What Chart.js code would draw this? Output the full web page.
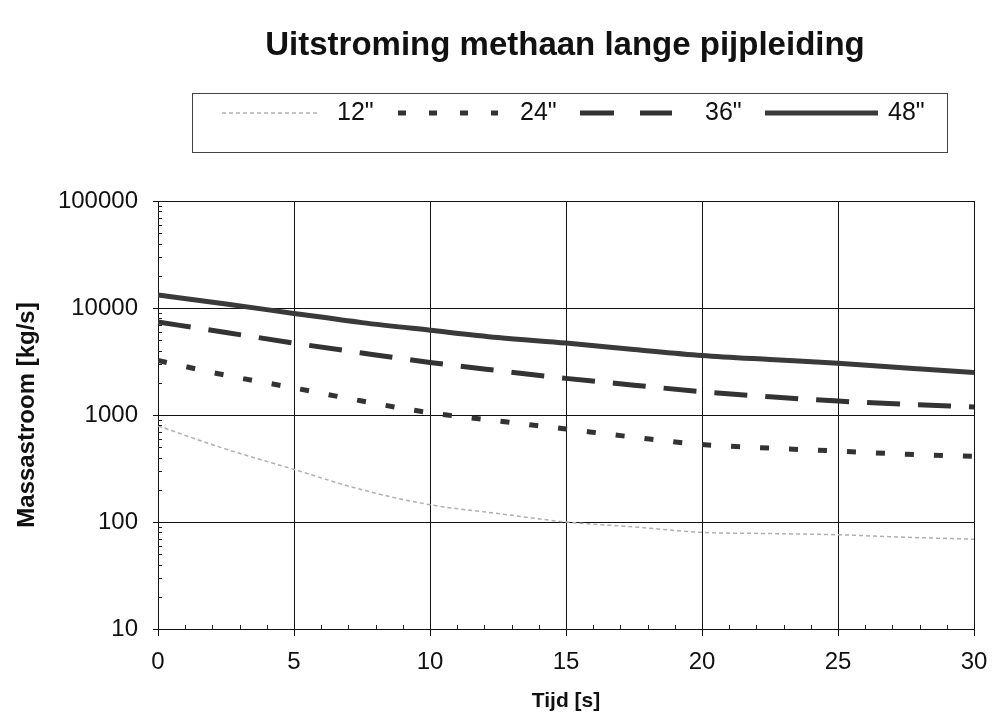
<!DOCTYPE html>
<html>
<head>
<meta charset="utf-8">
<script src="https://cdn.jsdelivr.net/npm/chart.js@4"></script>
<style>
  html, body { margin: 0; padding: 0; background: #fff; }
  #wrap { width: 992px; height: 722px; }
</style>
</head>
<body>
<div id="wrap"><canvas id="myChart" width="992" height="722"></canvas></div>
<script>
const ctx = document.getElementById('myChart');

// data
const chartTitle = 'Uitstroming methaan lange pijpleiding';
const times = [0, 2.5, 5, 7.5, 10, 12.5, 15, 17.5, 20, 22.5, 25, 27.5, 30];
const flow12 = [790, 480, 310, 200, 145, 120, 100, 90, 80, 78, 76, 72, 69];
const flow24 = [3230, 2350, 1790, 1350, 1050, 880, 740, 620, 530, 490, 460, 430, 410];
const flow36 = [7400, 5900, 4700, 3800, 3100, 2600, 2200, 1900, 1650, 1480, 1350, 1260, 1190];
const flow48 = [13200, 10900, 8900, 7300, 6200, 5300, 4700, 4100, 3600, 3300, 3050, 2750, 2500];
const seriesLabels = ['12"', '24"', '36"', '48"'];
const yTicks = [10, 100, 1000, 10000, 100000];
const xTicks = [0, 5, 10, 15, 20, 25, 30];

const toPoints = arr => times.map((t, i) => ({ x: t, y: arr[i] }));

// legend sample x-ranges and label x (layout only)
const legendSlots = [
    { x1: 222, x2: 318, tx: 337 },
    { x1: 398, x2: 498, tx: 520 },
    { x1: 580, x2: 672, tx: 705 },
    { x1: 765, x2: 878, tx: 888 }
];

const headerPlugin = {
    id: 'header',
    beforeDraw(chart) {
        const c = chart.ctx;
        c.save();
        c.fillStyle = '#fff';
        c.fillRect(0, 0, chart.width, chart.height);
        c.restore();
    },
    afterDraw(chart) {
        const c = chart.ctx;
        c.save();
        // title
        c.fillStyle = '#111';
        c.font = 'bold 33px "Liberation Sans", Arial, sans-serif';
        c.textAlign = 'center';
        c.textBaseline = 'alphabetic';
        c.fillText(chartTitle, 565, 55);

        // legend box
        c.strokeStyle = '#444';
        c.lineWidth = 1;
        c.strokeRect(192.5, 93.5, 755, 59);

        c.font = '25px "Liberation Sans", Arial, sans-serif';
        c.textAlign = 'left';
        chart.data.datasets.forEach((ds, i) => {
            const s = legendSlots[i];
            c.beginPath();
            c.strokeStyle = ds.borderColor;
            c.lineWidth = ds.borderWidth;
            c.setLineDash(ds.legendDash || ds.borderDash || []);
            c.moveTo(s.x1, 113);
            c.lineTo(s.x2, 113);
            c.stroke();
            c.setLineDash([]);
            c.fillStyle = '#111';
            c.fillText(ds.label, s.tx, 120);
        });

        // minor ticks inside the plot
        const xs = chart.scales.x, ys = chart.scales.y;
        c.strokeStyle = '#222';
        c.lineWidth = 1;
        c.beginPath();
        for (let v = 0; v <= 30; v++) {
            if (v % 5 === 0) continue;
            const px = Math.round(xs.getPixelForValue(v)) + 0.5;
            c.moveTo(px, ys.bottom);
            c.lineTo(px, ys.bottom - 4);
        }
        yTicks.slice(0, -1).forEach(d => {
            for (let m = 2; m <= 9; m++) {
                const py = Math.round(ys.getPixelForValue(d * m)) + 0.5;
                c.moveTo(xs.left, py);
                c.lineTo(xs.left + 4, py);
            }
        });
        c.stroke();
        c.restore();
    }
};

new Chart(ctx, {
    type: 'line',
    data: {
        datasets: [{
            label: seriesLabels[0],
            data: toPoints(flow12),
            borderColor: '#b0b0b0',
            borderWidth: 1.5,
            borderDash: [4, 3]
        },
        {
            label: seriesLabels[1],
            data: toPoints(flow24),
            borderColor: '#333',
            borderWidth: 5,
            borderDash: [9, 20],
            legendDash: [8, 23]
        },
        {
            label: seriesLabels[2],
            data: toPoints(flow36),
            borderColor: '#333',
            borderWidth: 5,
            borderDash: [33, 18],
            legendDash: [34, 26]
        },
        {
            label: seriesLabels[3],
            data: toPoints(flow48),
            borderColor: '#3a3a3a',
            borderWidth: 5
        }
        ]
    },
    options: {
        responsive: false,
        animation: false,
        layout: {
            padding: { top: 201, right: 18, left: 0, bottom: 0 }
        },
        elements: {
            point: { radius: 0 },
            line: { cubicInterpolationMode: 'monotone' }
        },
        plugins: {
            legend: { display: false },
            title: { display: false },
            tooltip: { enabled: false }
        },
        scales: {
            x: {
                type: 'linear',
                min: 0,
                max: 30,
                afterFit: s => { s.height = 93; s.paddingRight = 0; s.paddingLeft = 0; },
                afterBuildTicks: s => { s.ticks = xTicks.map(v => ({ value: v })); },
                grid: { color: '#111', lineWidth: 1, tickLength: 7 },
                border: { color: '#111', width: 1 },
                ticks: {
                    color: '#111',
                    padding: 12,
                    maxRotation: 0,
                    font: { family: '"Liberation Sans", Arial, sans-serif', size: 24 }
                },
                title: {
                    display: true,
                    text: 'Tijd [s]',
                    color: '#111',
                    padding: { top: 6, bottom: 8 },
                    font: { family: '"Liberation Sans", Arial, sans-serif', size: 21, weight: 'bold' }
                }
            },
            y: {
                type: 'logarithmic',
                min: 10,
                max: 100000,
                afterFit: s => { s.width = 158; },
                afterBuildTicks: s => { s.ticks = yTicks.map(v => ({ value: v })); },
                grid: { color: '#111', lineWidth: 1, tickLength: 5 },
                border: { color: '#111', width: 1 },
                ticks: {
                    color: '#111',
                    padding: 15,
                    callback: v => String(v),
                    font: { family: '"Liberation Sans", Arial, sans-serif', size: 24 }
                },
                title: {
                    display: true,
                    text: 'Massastroom [kg/s]',
                    color: '#111',
                    padding: { top: 13, bottom: 0 },
                    font: { family: '"Liberation Sans", Arial, sans-serif', size: 24, weight: 'bold' }
                }
            }
        }
    },
    plugins: [headerPlugin]
});
</script>
</body>
</html>
